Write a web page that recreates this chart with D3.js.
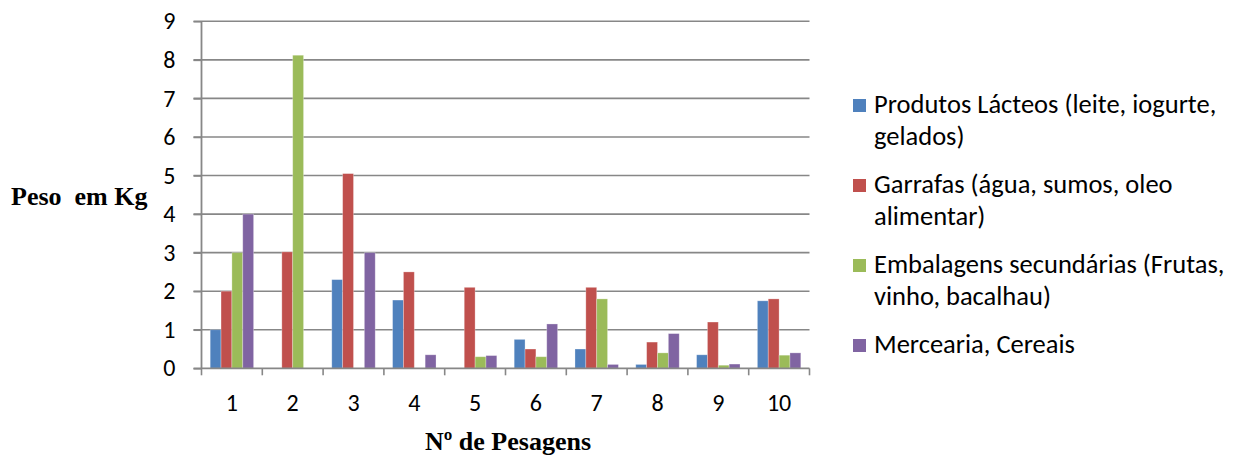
<!DOCTYPE html>
<html>
<head>
<meta charset="utf-8">
<script src="https://cdn.jsdelivr.net/npm/d3@7"></script>
<style>
  html, body { margin: 0; padding: 0; background: #fff; }
  svg { display: block; }
</style>
</head>
<body>
<svg id="chart" width="1245" height="460"></svg>
<script>
// Pesagens (weighings) 1..10
const categories = ["1", "2", "3", "4", "5", "6", "7", "8", "9", "10"];
const seriesNames = [
  "Produtos Lácteos (leite, iogurte, gelados)",
  "Garrafas (água, sumos, oleo alimentar)",
  "Embalagens secundárias (Frutas, vinho, bacalhau)",
  "Mercearia, Cereais"
];
const lacteos    = [1.0, 0,    2.3, 1.77, 0,    0.75, 0.5, 0.1,  0.35, 1.75];
const garrafas   = [2.0, 3.02, 5.05, 2.5, 2.1,  0.5,  2.1, 0.68, 1.2,  1.8];
const embalagens = [3.0, 8.12, 0,    0,   0.3,  0.3,  1.8, 0.4,  0.08, 0.34];
const mercearia  = [4.0, 0,    3.0, 0.35, 0.33, 1.15, 0.1, 0.9,  0.11, 0.4];
const yTicks = [0, 1, 2, 3, 4, 5, 6, 7, 8, 9];
const colors = ["#4F81BD", "#C0504D", "#9BBB59", "#8064A2"];

const allSeries = [lacteos, garrafas, embalagens, mercearia];
const svg = d3.select("#chart");

const plot = { left: 201.5, right: 809.5, top: 21.3, bottom: 368.3 };
const sans = "Carlito, Calibri, 'Open Sans', sans-serif";
const serif = "'Liberation Serif', 'Times New Roman', serif";

const x = d3.scaleBand().domain(categories).range([plot.left, plot.right]).paddingInner(0).paddingOuter(0);
const y = d3.scaleLinear().domain([0, 9]).range([plot.bottom, plot.top]);

const gridColor = "#878787";

// horizontal gridlines
svg.append("g").selectAll("line").data(yTicks.filter(d => d > 0)).join("line")
  .attr("x1", plot.left - 8).attr("x2", plot.right)
  .attr("y1", d => y(d)).attr("y2", d => y(d))
  .attr("stroke", gridColor).attr("stroke-width", 1.6);

// bars
const inner = d3.scaleBand().domain(d3.range(4)).range([0, x.bandwidth()]).paddingInner(0).paddingOuter(0.8);
const rows = categories.map((c, i) => ({ c, vals: allSeries.map(s => s[i]) }));
const groups = svg.append("g").selectAll("g").data(rows).join("g")
  .attr("transform", d => `translate(${x(d.c)},0)`);
groups.selectAll("rect").data(d => d.vals.map((v, k) => ({ v, k }))).join("rect")
  .filter(d => d.v > 0)
  .attr("x", d => inner(d.k))
  .attr("width", inner.bandwidth())
  .attr("y", d => y(d.v))
  .attr("height", d => y(0) - y(d.v))
  .attr("fill", d => colors[d.k])
  .attr("stroke", "#ffffff").attr("stroke-opacity", 0.35).attr("stroke-width", 0.8);

// y axis
const yAxis = d3.axisLeft(y).tickValues(yTicks).tickSize(8).tickPadding(18).tickFormat(d3.format("d"));
const gy = svg.append("g").attr("transform", `translate(${plot.left},0)`).call(yAxis);
gy.select(".domain").attr("stroke", gridColor).attr("stroke-width", 1.8).attr("d", `M0,${plot.top}V${plot.bottom}`);
gy.selectAll(".tick line").attr("stroke", gridColor).attr("stroke-width", 1.6);
gy.selectAll(".tick text").attr("font-family", sans).attr("font-size", 24).attr("fill", "#000");

// x axis
const xAxis = d3.axisBottom(x).tickSize(0).tickPadding(0);
const gx = svg.append("g").attr("transform", `translate(0,${plot.bottom})`).call(xAxis);
gx.select(".domain").attr("stroke", gridColor).attr("stroke-width", 1.8).attr("d", `M${plot.left - 8},0H${plot.right}`);
gx.selectAll(".tick text").attr("font-family", sans).attr("font-size", 24).attr("fill", "#000")
  .attr("y", 43).attr("dy", 0);
// category boundary tick marks
svg.append("g").selectAll("line").data(categories.map(c => x(c)).concat([plot.right])).join("line")
  .attr("x1", d => d).attr("x2", d => d)
  .attr("y1", plot.bottom).attr("y2", plot.bottom + 7)
  .attr("stroke", gridColor).attr("stroke-width", 1.6);

// axis titles
svg.append("text").attr("x", 11).attr("y", 205)
  .attr("font-family", serif).attr("font-weight", "bold").attr("font-size", 26)
  .style("white-space", "pre")
  .text("Peso  em Kg");
svg.append("text").attr("x", 508).attr("y", 450).attr("text-anchor", "middle")
  .attr("font-family", serif).attr("font-weight", "bold").attr("font-size", 26)
  .text("Nº de Pesagens");

// legend
const legendLines = [
  ["Produtos Lácteos (leite, iogurte,", "gelados)"],
  ["Garrafas (água, sumos, oleo", "alimentar)"],
  ["Embalagens secundárias (Frutas,", "vinho, bacalhau)"],
  ["Mercearia, Cereais"]
];
const legendBase = [113, 193, 273, 353];
const lg = svg.append("g").selectAll("g").data(seriesNames).join("g")
  .attr("transform", (d, i) => `translate(853,${legendBase[i]})`);
lg.append("rect").attr("x", 0).attr("y", -14).attr("width", 13).attr("height", 13).attr("fill", (d, i) => colors[i]);
lg.each(function(d, i) {
  const t = d3.select(this).append("text")
    .attr("font-family", sans).attr("font-size", 26.5).attr("fill", "#000");
  legendLines[i].forEach((line, j) => {
    t.append("tspan").attr("x", 21).attr("y", j * 32).text(line);
  });
});
</script>
</body>
</html>
